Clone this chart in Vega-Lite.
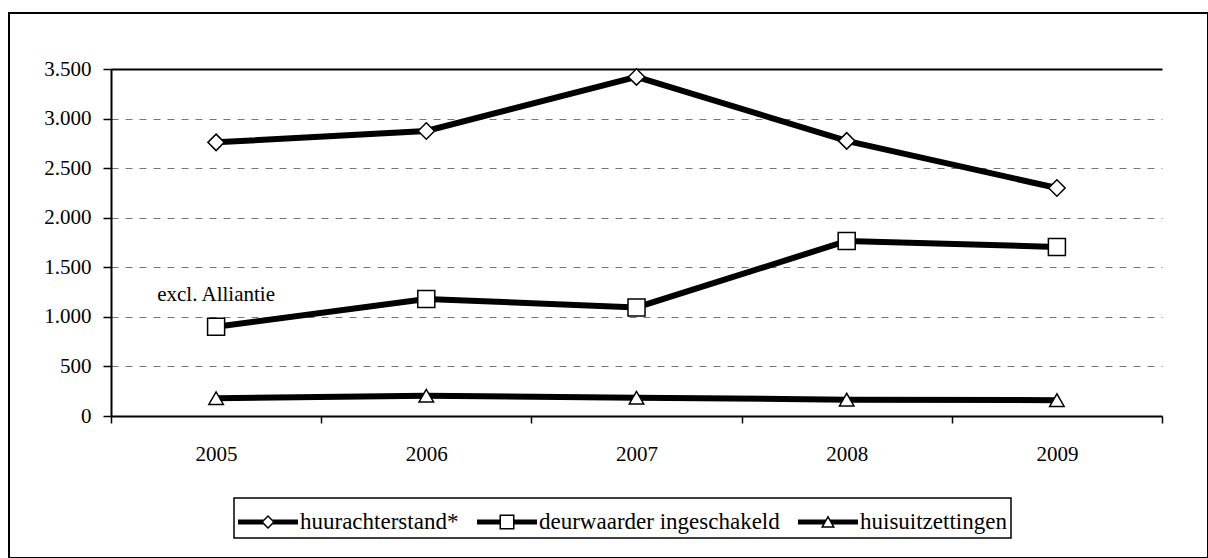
{
  "$schema": "https://vega.github.io/schema/vega-lite/v6.json",
  "width": 1199,
  "height": 545,
  "autosize": {"type": "none"},
  "padding": {"left": 9, "top": 13, "right": 0, "bottom": 0},
  "background": "white",
  "config": {
    "view": {"stroke": "black", "strokeWidth": 2},
    "font": "Liberation Serif",
    "axis": {"labelFont": "Liberation Serif", "labelFontSize": 21, "labelColor": "black", "domainColor": "black", "domainWidth": 2, "tickColor": "black", "tickWidth": 1.5, "title": null},
    "legend": {"strokeWidth": 1.5, "labelFont": "Liberation Serif", "labelFontSize": 23, "labelColor": "black", "labelLimit": 500}
  },
  "datasets": {
    "series": [
      {"year": 2005, "series": "huurachterstand*", "value": 2760},
      {"year": 2006, "series": "huurachterstand*", "value": 2875},
      {"year": 2007, "series": "huurachterstand*", "value": 3420},
      {"year": 2008, "series": "huurachterstand*", "value": 2775},
      {"year": 2009, "series": "huurachterstand*", "value": 2300},
      {"year": 2005, "series": "deurwaarder ingeschakeld", "value": 900},
      {"year": 2006, "series": "deurwaarder ingeschakeld", "value": 1180},
      {"year": 2007, "series": "deurwaarder ingeschakeld", "value": 1095},
      {"year": 2008, "series": "deurwaarder ingeschakeld", "value": 1765},
      {"year": 2009, "series": "deurwaarder ingeschakeld", "value": 1705},
      {"year": 2005, "series": "huisuitzettingen", "value": 180},
      {"year": 2006, "series": "huisuitzettingen", "value": 205},
      {"year": 2007, "series": "huisuitzettingen", "value": 185},
      {"year": 2008, "series": "huisuitzettingen", "value": 165},
      {"year": 2009, "series": "huisuitzettingen", "value": 160}
    ],
    "notes": [
      {"year": 2005, "value": 1160, "label": "excl. Alliantie"}
    ]
  },
  "encoding": {
    "x": {
      "field": "year", "type": "ordinal",
      "scale": {"type": "band", "domain": [2005, 2006, 2007, 2008, 2009], "range": [102, 1153], "paddingInner": 0, "paddingOuter": 0},
      "axis": {
        "orient": "bottom", "offset": -142, "tickBand": "extent", "tickSize": 7, "labelPadding": 20, "labelAngle": 0,
        "grid": false
      }
    },
    "y": {
      "field": "value", "type": "quantitative",
      "scale": {"domain": [0, 3500], "range": [403, 56], "nice": false, "zero": true},
      "axis": {
        "orient": "left", "offset": -102, "values": [0, 500, 1000, 1500, 2000, 2500, 3000, 3500],
        "labelExpr": "replace(format(datum.value, ','), ',', '.')",
        "tickSize": 8, "labelPadding": 12,
        "grid": true,
        "gridColor": {"condition": {"test": "datum.value >= 3500", "value": "black"}, "value": "#777777"},
        "gridDash": {"condition": {"test": "datum.value >= 3500", "value": []}, "value": [7, 7]},
        "gridWidth": {"condition": {"test": "datum.value >= 3500", "value": 2}, "value": 1}
      }
    }
  },
  "layer": [
    {
      "mark": {"type": "rule", "color": "black", "strokeWidth": 2},
      "encoding": {
        "x": {"datum": 2009, "type": "ordinal", "bandPosition": 1},
        "y": {"datum": 0, "type": "quantitative"},
        "y2": {"datum": 3500}
      }
    },
    {
      "data": {"name": "series"},
      "mark": {"type": "line", "color": "black", "strokeWidth": 6},
      "encoding": {"detail": {"field": "series", "type": "nominal"}}
    },
    {
      "data": {"name": "series"},
      "transform": [{"filter": "datum.series === 'huurachterstand*'"}],
      "mark": {"type": "point", "shape": "diamond", "filled": true, "fill": "white", "stroke": "black", "strokeWidth": 1.5, "opacity": 1, "size": 270}
    },
    {
      "data": {"name": "series"},
      "transform": [{"filter": "datum.series === 'deurwaarder ingeschakeld'"}],
      "mark": {"type": "point", "shape": "square", "filled": true, "fill": "white", "stroke": "black", "strokeWidth": 1.5, "opacity": 1, "size": 290}
    },
    {
      "data": {"name": "series"},
      "transform": [{"filter": "datum.series === 'huisuitzettingen'"}],
      "mark": {"type": "point", "shape": "triangle-up", "filled": true, "fill": "white", "stroke": "black", "strokeWidth": 1.5, "opacity": 1, "size": 210}
    },
    {
      "data": {"name": "series"},
      "transform": [{"filter": "false"}],
      "mark": {"type": "point", "filled": true, "color": "black", "strokeWidth": 0, "opacity": 1},
      "encoding": {
        "shape": {
          "field": "series", "type": "nominal",
          "scale": {
            "domain": ["huurachterstand*", "deurwaarder ingeschakeld", "huisuitzettingen"],
            "range": [
              "M-1.5,-0.125L-0.23,-0.125L-0.23,0.125L-1.5,0.125Z M0.23,-0.125L1.5,-0.125L1.5,0.125L0.23,0.125Z M-0.35,0L0,-0.35L0.35,0L0,0.35Z M-0.244,0L0,0.244L0.244,0L0,-0.244Z",
              "M-1.5,-0.125L-0.34,-0.125L-0.34,0.125L-1.5,0.125Z M0.34,-0.125L1.5,-0.125L1.5,0.125L0.34,0.125Z M-0.375,-0.375L0.375,-0.375L0.375,0.375L-0.375,0.375Z M-0.3,-0.3L-0.3,0.3L0.3,0.3L0.3,-0.3Z",
              "M-1.5,-0.125L-0.075,-0.125L-0.21,0.125L-1.5,0.125Z M0.075,-0.125L1.5,-0.125L1.5,0.125L0.21,0.125Z M0,-0.3375L0.3525,0.285L-0.3525,0.285Z M0,-0.185L-0.2235,0.21L0.2235,0.21Z"
            ]
          },
          "legend": {
            "orient": "none", "legendX": 225, "legendY": 485, "direction": "horizontal", "columns": 3,
            "title": null, "labelFont": "Liberation Serif", "labelFontSize": 23, "labelColor": "black", "labelLimit": 500,
            "strokeColor": "black", "padding": 4, "symbolSize": 1600, "symbolOffset": 10, "labelOffset": 12, "columnPadding": 18,
            "symbolFillColor": "black", "symbolStrokeWidth": 0, "symbolOpacity": 1
          }
        }
      }
    },
    {
      "data": {"name": "notes"},
      "mark": {"type": "text", "font": "Liberation Serif", "fontSize": 21, "color": "black", "align": "center", "baseline": "alphabetic"},
      "encoding": {"text": {"field": "label", "type": "nominal"}}
    }
  ]
}
